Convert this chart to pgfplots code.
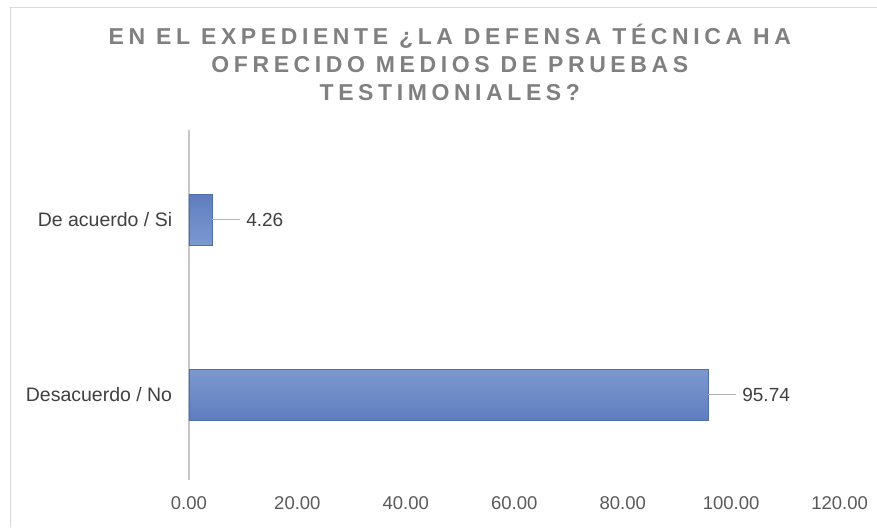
\documentclass[border=0pt]{standalone}
\usepackage{fontspec}
\setmainfont{Liberation Sans}
\newfontfamily\titlefont[LetterSpace=20]{Liberation Sans}
\usepackage{pgfplots}
\pgfplotsset{compat=1.18}
\usetikzlibrary{patterns}
\definecolor{barmid}{RGB}{160,186,232}
\definecolor{baredge}{RGB}{95,125,190}
\definecolor{barline}{RGB}{80,110,175}
\definecolor{titlegray}{RGB}{128,128,128}
\definecolor{ticktext}{RGB}{89,89,89}
\definecolor{cattext}{RGB}{64,64,64}
\begin{document}
\begin{tikzpicture}[x=1pt,y=1pt]
\begin{axis}[
  at={(0,0)}, anchor=south west,
  scale only axis,
  width=651pt, height=350pt,
  xmin=0, xmax=120,
  ymin=-0.485, ymax=1.515,
  xbar, bar width=51pt,
  axis x line=none,
  axis y line*=left,
  y axis line style={draw=black!22, line width=1.8pt, -},
  ytick={0,1},
  yticklabels={Desacuerdo / No, De acuerdo / Si},
  ytick style={draw=none},
  yticklabel style={font=\fontsize{19.5}{22}\selectfont, text=cattext, anchor=east, xshift=-9pt},
  clip=false,
  /pgf/number format/assume math mode=true,
  nodes near coords={\textcolor{black!30}{\rule[0.33em]{28pt}{1pt}}\hspace{6pt}\pgfmathprintnumber[fixed,fixed zerofill,precision=2,assume math mode=true]{\pgfplotspointmeta}},
  nodes near coords align={horizontal},
  every node near coord/.append style={font=\fontsize{19}{22}\selectfont, text=cattext, anchor=west, inner sep=0pt, xshift=0pt},
]
\addplot[shade, top color=baredge, bottom color=baredge, middle color=barmid, draw=barline, line width=0.6pt,
  postaction={pattern=vertical lines, pattern color=white!70!barmid}]
  coordinates {(95.74,0) (4.26,1)};
\end{axis}
% x tick labels
\foreach \v/\l in {0/0.00,20/20.00,40/40.00,60/60.00,80/80.00,100/100.00,120/120.00}{
  \node[font=\fontsize{18.5}{22}\selectfont, text=ticktext] at ({\v*5.425}, -23) {\l};
}
\draw[black!15, line width=0.8pt] (-179,-47) -- (-179,473) -- (688,473);
\node[align=center, text=titlegray, font=\titlefont\bfseries\fontsize{23}{28}\selectfont] at (261,418)
  {EN EL EXPEDIENTE ¿LA DEFENSA TÉCNICA HA\\OFRECIDO MEDIOS DE PRUEBAS\\TESTIMONIALES?};
\useasboundingbox (-189,-47) rectangle (688,480);
\end{tikzpicture}
\end{document}
